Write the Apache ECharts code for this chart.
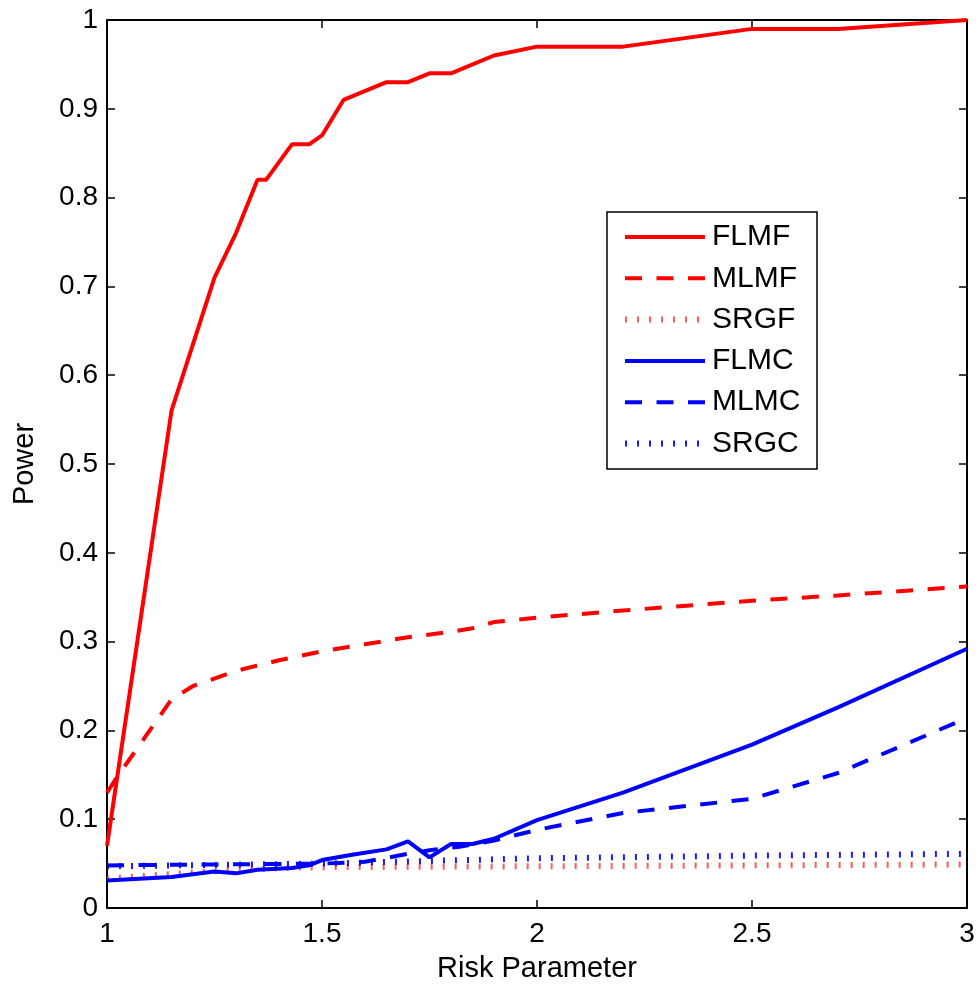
<!doctype html>
<html>
<head>
    <meta charset="UTF-8">
    <title>Power vs Risk Parameter</title>
    <script src="https://cdn.jsdelivr.net/npm/echarts@6/dist/echarts.min.js"></script>
    <style>
        html, body { margin: 0; padding: 0; background: #fff; }
    </style>
</head>
<body>
<div id="main" style="width: 980px;height:993px;"></div>
<script>
    // values
    var flmfX = [1, 1.15, 1.25, 1.3, 1.35, 1.37, 1.43, 1.47, 1.5, 1.55, 1.65, 1.7, 1.75, 1.8, 1.9, 2.0, 2.2, 2.5, 2.7, 3.0];
    var flmfY = [0.07, 0.56, 0.71, 0.76, 0.82, 0.82, 0.86, 0.86, 0.87, 0.91, 0.93, 0.93, 0.94, 0.94, 0.96, 0.97, 0.97, 0.99, 0.99, 1.0];

    var mlmfX = [1, 1.02, 1.15, 1.2, 1.3, 1.4, 1.5, 1.6, 1.7, 1.8, 1.85, 1.9, 2.0, 2.2, 2.5, 2.7, 3.0];
    var mlmfY = [0.13, 0.145, 0.235, 0.25, 0.267, 0.279, 0.289, 0.297, 0.305, 0.311, 0.315, 0.322, 0.327, 0.335, 0.346, 0.352, 0.362];

    var srgfX = [1, 1.2, 1.4, 1.5, 2.0, 2.5, 3.0];
    var srgfY = [0.033, 0.040, 0.045, 0.046, 0.047, 0.048, 0.049];

    var flmcX = [1, 1.15, 1.25, 1.3, 1.35, 1.43, 1.47, 1.5, 1.57, 1.65, 1.7, 1.75, 1.8, 1.85, 1.9, 2.0, 2.2, 2.5, 2.7, 3.0];
    var flmcY = [0.031, 0.035, 0.041, 0.039, 0.043, 0.045, 0.048, 0.054, 0.06, 0.066, 0.075, 0.057, 0.072, 0.072, 0.078, 0.099, 0.13, 0.184, 0.226, 0.292];

    var mlmcX = [1, 1.5, 1.6, 1.7, 1.75, 1.82, 1.9, 2.0, 2.2, 2.5, 2.7, 3.0];
    var mlmcY = [0.048, 0.05, 0.052, 0.061, 0.065, 0.069, 0.076, 0.088, 0.107, 0.123, 0.152, 0.214];

    var srgcX = [1, 1.5, 1.75, 2.0, 2.5, 3.0];
    var srgcY = [0.047, 0.050, 0.053, 0.056, 0.059, 0.061];

    var names = ['FLMF', 'MLMF', 'SRGF', 'FLMC', 'MLMC', 'SRGC'];

    function pairs(xs, ys) {
        return xs.map((x, i) => [x, ys[i]]);
    }

    var font = 'Liberation Sans, Arial, sans-serif';
    var solid = 'solid';
    var dash = [17, 14.5];
    var dots = [2, 10];

    var styles = {
        FLMF: { color: '#ff0000', type: solid, width: 4, opacity: 1 },
        MLMF: { color: '#ff0000', type: dash, width: 4, opacity: 1 },
        SRGF: { color: '#ff3030', type: dots, width: 6, opacity: 0.8 },
        FLMC: { color: '#0000ff', type: solid, width: 4, opacity: 1 },
        MLMC: { color: '#0000ff', type: dash, width: 4, opacity: 1 },
        SRGC: { color: '#0000ff', type: dots, width: 6, opacity: 0.9 }
    };

    function mkSeries(name, xs, ys) {
        var s = styles[name];
        return {
            name: name,
            type: 'line',
            data: pairs(xs, ys),
            showSymbol: false,
            symbol: 'none',
            clip: false,
            animation: false,
            color: s.color,
            lineStyle: { color: s.color, width: s.width, type: s.type, cap: 'butt', opacity: s.opacity }
        };
    }

    var series = [
        mkSeries('FLMF', flmfX, flmfY),
        mkSeries('MLMF', mlmfX, mlmfY),
        mkSeries('SRGF', srgfX, srgfY),
        mkSeries('FLMC', flmcX, flmcY),
        mkSeries('MLMC', mlmcX, mlmcY),
        mkSeries('SRGC', srgcX, srgcY)
    ];

    var legendData = names.map(n => ({
        name: n,
        itemStyle: { opacity: 0 },
        lineStyle: {
            color: styles[n].color, width: styles[n].width, type: styles[n].type,
            cap: 'butt', opacity: styles[n].opacity
        }
    }));

    var axisLine = { show: true, onZero: false, lineStyle: { color: '#000', width: 2 } };
    var axisTick = { show: true, inside: true, length: 8, lineStyle: { color: '#000', width: 1.5 } };
    var labelStyle = { color: '#000', fontSize: 28, fontFamily: font };

    var myChart = echarts.init(document.getElementById('main'));
    var option = {
        animation: false,
        backgroundColor: '#fff',
        grid: { left: 107, top: 20, right: 13, bottom: 85 },
        xAxis: [
            {
                type: 'value', min: 1, max: 3, interval: 0.5, position: 'bottom',
                name: 'Risk Parameter', nameLocation: 'middle', nameGap: 46,
                nameTextStyle: { color: '#000', fontSize: 29, fontFamily: font },
                axisLine: axisLine, axisTick: axisTick,
                axisLabel: Object.assign({ margin: 12 }, labelStyle),
                splitLine: { show: false }
            },
            {
                type: 'value', min: 1, max: 3, interval: 0.5, position: 'top',
                axisLine: axisLine, axisTick: axisTick,
                axisLabel: { show: false }, splitLine: { show: false }
            }
        ],
        yAxis: [
            {
                type: 'value', min: 0, max: 1, interval: 0.1, position: 'left',
                name: 'Power', nameLocation: 'middle', nameGap: 68,
                nameTextStyle: { color: '#000', fontSize: 29, fontFamily: font },
                axisLine: axisLine, axisTick: axisTick,
                axisLabel: Object.assign({ margin: 9 }, labelStyle),
                splitLine: { show: false }
            },
            {
                type: 'value', min: 0, max: 1, interval: 0.1, position: 'right',
                axisLine: axisLine, axisTick: axisTick,
                axisLabel: { show: false }, splitLine: { show: false }
            }
        ],
        legend: {
            data: legendData,
            orient: 'vertical',
            left: 622,
            top: 221,
            padding: 0,
            itemWidth: 80,
            itemHeight: 14,
            itemGap: 9.3,
            textStyle: { color: '#000', fontSize: 30, fontFamily: font, lineHeight: 32, padding: [0, 0, 0, 2] }
        },
        graphic: [
            {
                type: 'rect', z: 3,
                shape: { x: 607, y: 212, width: 210, height: 257 },
                style: { fill: '#fff', stroke: '#000', lineWidth: 1.5 }
            }
        ],
        series: series
    };
    myChart.setOption(option);
</script>
</body>
</html>
